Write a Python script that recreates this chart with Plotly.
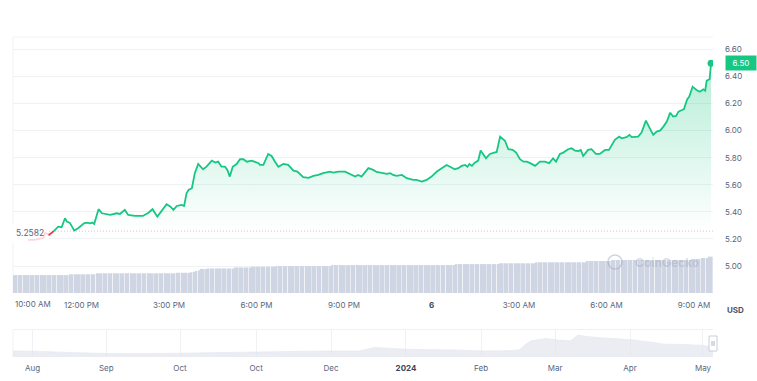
import plotly.graph_objects as go
from datetime import datetime, timedelta
import pandas as pd

# ---------------- data ----------------
price_times = [
    "10:10", "10:24", "10:41", "10:45", "10:53", "10:59", "11:07", "11:12", "11:19", "11:26",
    "11:30", "11:36", "11:45", "11:53", "12:05", "12:11", "12:18", "12:22", "12:26", "12:35",
    "12:42", "12:52", "12:59", "13:12", "13:19", "13:29", "13:36", "13:50", "14:06", "14:17",
    "14:26", "14:36", "14:55", "15:03", "15:09", "15:16", "15:26", "15:31", "15:36", "15:40",
    "15:47", "15:53", "16:00", "16:10", "16:17", "16:28", "16:35", "16:41", "16:48", "16:55",
    "17:00", "17:05", "17:11", "17:19", "17:26", "17:33", "17:40", "17:50", "17:57", "18:04",
    "18:07", "18:14", "18:24", "18:31", "18:38", "18:45", "18:55", "19:05", "19:16", "19:24",
    "19:36", "19:47", "19:57", "20:07", "20:17", "20:31", "20:38", "20:48", "21:02", "21:12",
    "21:23", "21:29", "21:36", "21:50", "22:00", "22:07", "22:17", "22:28", "22:35", "22:41",
    "22:48", "22:59", "23:09", "23:22", "23:29", "23:40", "23:50", "00:00", "00:11", "00:21",
    "00:31", "00:38", "00:48", "00:55", "01:02", "01:09", "01:14", "01:18", "01:23", "01:29",
    "01:36", "01:41", "01:46", "01:52", "02:00", "02:14", "02:21", "02:31", "02:38", "02:47",
    "02:54", "03:02", "03:09", "03:16", "03:23", "03:33", "03:43", "03:53", "04:02", "04:10",
    "04:16", "04:24", "04:31", "04:41", "04:48", "04:55", "05:02", "05:07", "05:12", "05:22",
    "05:29", "05:38", "05:46", "05:57", "06:05", "06:17", "06:26", "06:31", "06:41", "06:47",
    "06:52", "07:05", "07:12", "07:21", "07:28", "07:36", "07:43", "07:50", "07:57", "08:04",
    "08:11", "08:17", "08:23", "08:28", "08:35", "08:39", "08:46", "08:50", "08:57", "09:05",
    "09:12", "09:19", "09:23", "09:26", "09:32", "09:35",
]
prices = [
    5.193, 5.193, 5.208, 5.245, 5.230, 5.245, 5.272, 5.291, 5.287, 5.353,
    5.328, 5.319, 5.262, 5.279, 5.316, 5.321, 5.316, 5.321, 5.311, 5.420,
    5.390, 5.385, 5.378, 5.390, 5.385, 5.415, 5.378, 5.370, 5.370, 5.392,
    5.420, 5.365, 5.457, 5.439, 5.415, 5.444, 5.452, 5.444, 5.538, 5.562,
    5.575, 5.686, 5.754, 5.715, 5.734, 5.779, 5.764, 5.771, 5.734, 5.734,
    5.710, 5.661, 5.734, 5.754, 5.789, 5.789, 5.771, 5.779, 5.769, 5.760,
    5.747, 5.747, 5.828, 5.813, 5.771, 5.734, 5.754, 5.747, 5.705, 5.698,
    5.656, 5.651, 5.666, 5.673, 5.686, 5.698, 5.690, 5.698, 5.698, 5.681,
    5.661, 5.673, 5.661, 5.723, 5.710, 5.695, 5.690, 5.681, 5.686, 5.673,
    5.666, 5.673, 5.649, 5.636, 5.636, 5.624, 5.636, 5.661, 5.698, 5.723,
    5.747, 5.734, 5.715, 5.723, 5.740, 5.747, 5.734, 5.754, 5.740, 5.764,
    5.779, 5.853, 5.828, 5.796, 5.828, 5.843, 5.956, 5.926, 5.863, 5.858,
    5.838, 5.789, 5.771, 5.771, 5.760, 5.740, 5.771, 5.771, 5.760, 5.796,
    5.771, 5.828, 5.838, 5.863, 5.870, 5.853, 5.850, 5.858, 5.813, 5.858,
    5.863, 5.828, 5.828, 5.858, 5.858, 5.932, 5.956, 5.944, 5.952, 5.969,
    5.952, 5.956, 5.986, 6.074, 6.025, 5.969, 5.993, 6.000, 6.030, 6.067,
    6.133, 6.104, 6.109, 6.141, 6.153, 6.158, 6.232, 6.251, 6.325, 6.301,
    6.288, 6.306, 6.296, 6.370, 6.380, 6.498,
]
baseline_price = 5.2582
last_price_label = "6.50"

# volume bars, 5-minute buckets over the 24h window (millions USD)
volumes = [
    70, 70, 70, 70, 70, 70, 70, 70, 70, 70, 70, 70,
    70, 70, 70, 70, 70, 70, 70, 70, 70, 70, 70, 73,
    73, 73, 73, 73, 73, 73, 73, 73, 73, 73, 77, 77,
    77, 77, 77, 77, 77, 77, 77, 77, 77, 77, 77, 77,
    77, 77, 77, 77, 77, 77, 77, 77, 77, 77, 77, 77,
    77, 77, 77, 77, 77, 77, 77, 79, 79, 79, 79, 79,
    79, 81, 83, 86, 89, 94, 94, 94, 96, 96, 96, 96,
    96, 96, 96, 96, 96, 96, 96, 100, 100, 100, 100, 100,
    100, 100, 103, 103, 103, 103, 103, 103, 103, 103, 103, 103,
    105, 105, 105, 105, 105, 105, 105, 105, 105, 105, 105, 105,
    105, 105, 105, 105, 105, 105, 105, 105, 105, 105, 105, 109,
    109, 109, 109, 109, 109, 109, 109, 109, 109, 109, 109, 109,
    109, 109, 109, 109, 109, 109, 109, 109, 109, 109, 109, 109,
    109, 109, 109, 109, 109, 109, 109, 109, 109, 109, 109, 109,
    109, 109, 109, 109, 109, 109, 109, 109, 109, 109, 109, 109,
    109, 109, 113, 113, 113, 113, 113, 113, 113, 113, 113, 113,
    113, 113, 113, 113, 113, 113, 113, 113, 116, 116, 116, 116,
    116, 116, 116, 116, 116, 116, 116, 116, 116, 116, 116, 120,
    120, 120, 120, 120, 120, 120, 120, 120, 120, 120, 120, 120,
    120, 120, 120, 120, 120, 120, 120, 120, 125, 125, 125, 125,
    125, 125, 125, 125, 125, 125, 129, 129, 129, 129, 129, 129,
    129, 129, 129, 129, 129, 129, 129, 129, 129, 129, 129, 129,
    129, 129, 129, 129, 129, 129, 129, 129, 129, 129, 129, 129,
    129, 129, 129, 133, 133, 133, 133, 137, 137, 137, 142, 142,
]

first_tick_label = "10:00 AM"
x_tick_times = ["2024-05-05 12:00", "2024-05-05 15:00", "2024-05-05 18:00",
                "2024-05-05 21:00", "2024-05-06 00:00", "2024-05-06 03:00", "2024-05-06 06:00",
                "2024-05-06 09:00"]
x_tick_labels = ["12:00 PM", "3:00 PM", "6:00 PM", "9:00 PM",
                 "<b><span style='color:#3b4659'>6</span></b>", "3:00 AM", "6:00 AM", "9:00 AM"]
y_ticks = [5.0, 5.2, 5.4, 5.6, 5.8, 6.0, 6.2, 6.4, 6.6]

# navigator (1y overview)
nav_dates = ["2023-07-26", "2023-08-03", "2023-08-18", "2023-09-03", "2023-09-18", "2023-10-03",
             "2023-10-18", "2023-11-03", "2023-11-17", "2023-12-03", "2023-12-14", "2023-12-20",
             "2023-12-26", "2024-01-03", "2024-01-20", "2024-02-03", "2024-02-13", "2024-02-17",
             "2024-02-20", "2024-02-22", "2024-02-28", "2024-03-04", "2024-03-09", "2024-03-12",
             "2024-03-15", "2024-03-21", "2024-03-27", "2024-04-04", "2024-04-12", "2024-04-16",
             "2024-04-24", "2024-05-01", "2024-05-06"]
nav_values = [6.0, 5.8, 4.5, 3.4, 3.3, 4.0, 4.3, 4.7, 5.5, 6.0, 6.0, 9.4,
              8.5, 7.6, 7.0, 6.0, 6.3, 7.0, 13.0, 16.0, 18.3, 16.7, 16.0, 21.7,
              20.5, 19.0, 18.3, 16.7, 14.3, 12.7, 12.4, 11.7, 10.0]
nav_tick_dates = ["2023-08-03", "2023-09-02", "2023-10-02", "2023-11-02", "2023-12-02 12:00",
                  "2024-01-02", "2024-02-01 14:00", "2024-03-02 17:00", "2024-04-02 05:00",
                  "2024-05-01 22:00"]
nav_tick_labels = ["Aug", "Sep", "Oct", "Oct", "Dec",
                   "<b><span style='color:#3b4659'>2024</span></b>", "Feb", "Mar", "Apr", "May"]

# ---------------- build ----------------
GREEN = "#16c784"
RED = "#ea3943"
GRID = "#eff2f5"
TXT = "#58667e"

ts = []
day = datetime(2024, 5, 5)
prev = None
for t in price_times:
    h, m = map(int, t.split(":"))
    mins = h * 60 + m
    if prev is not None and mins < prev:
        day += timedelta(days=1)
    prev = mins
    ts.append(day.replace(hour=h, minute=m))

k = next(i for i, p in enumerate(prices) if p >= baseline_price)
t0, t1 = ts[k - 1], ts[k]
p0, p1 = prices[k - 1], prices[k]
tc = t0 + (t1 - t0) * ((baseline_price - p0) / (p1 - p0))
red_x = ts[:k] + [tc]
red_y = prices[:k] + [baseline_price]
green_x = [tc] + ts[k:]
green_y = [baseline_price] + prices[k:]

x_start = datetime(2024, 5, 5, 9, 39)
x_end = datetime(2024, 5, 6, 9, 39)
vol_x = pd.date_range(x_start + timedelta(minutes=2.5), periods=len(volumes), freq="5min")

fig = go.Figure()

fig.add_trace(go.Bar(x=vol_x, y=volumes, marker=dict(color="#cfd5e3", line=dict(width=0)),
                     xaxis="x", yaxis="y2", hoverinfo="skip"))

fig.add_trace(go.Scatter(x=green_x, y=[baseline_price] * len(green_x), mode="lines",
                         line=dict(width=0, color="rgba(0,0,0,0)"), hoverinfo="skip"))
fig.add_trace(go.Scatter(x=green_x, y=green_y, mode="lines", fill="tonexty",
                         fillgradient=dict(type="vertical", start=baseline_price, stop=6.5,
                                           colorscale=[[0, "rgba(22,199,132,0.0)"],
                                                       [1, "rgba(22,199,132,0.32)"]]),
                         line=dict(color=GREEN, width=1.8), hoverinfo="skip"))
fig.add_trace(go.Scatter(x=red_x, y=red_y, mode="lines", line=dict(color=RED, width=1.8),
                         hoverinfo="skip"))
fig.add_trace(go.Scatter(x=[ts[-1]], y=[prices[-1]], mode="markers",
                         marker=dict(color=GREEN, size=7), hoverinfo="skip"))

fig.add_trace(go.Scatter(x=nav_dates, y=nav_values, mode="lines", fill="tozeroy",
                         fillcolor="rgba(226,230,238,0.7)", line=dict(color="#e3e7ee", width=0.6),
                         xaxis="x2", yaxis="y3", hoverinfo="skip"))

W_PLOT = 700.0
H_PAPER = 320.0


def px_x(p):
    return (p - 13) / W_PLOT


def px_y(p):
    return (357 - p) / H_PAPER


shapes = [
    dict(type="line", xref="paper", yref="y", x0=0, x1=1, y0=baseline_price, y1=baseline_price,
         line=dict(color="#c3c9d4", width=1, dash="1px,2px"), layer="below"),
    dict(type="line", xref="paper", yref="paper", x0=0, x1=1, y0=1, y1=1,
         line=dict(color=GRID, width=1), layer="below"),
    dict(type="line", xref="paper", yref="paper", x0=0, x1=0, y0=0.2, y1=1,
         line=dict(color=GRID, width=1), layer="below"),
    dict(type="line", xref="paper", yref="paper", x0=0, x1=1, y0=px_y(329.5), y1=px_y(329.5),
         line=dict(color=GRID, width=1), layer="below"),
    dict(type="line", xref="paper", yref="paper", x0=0, x1=0, y0=0, y1=px_y(329.5),
         line=dict(color=GRID, width=1), layer="below"),
    # navigator handle
    dict(type="rect", xref="paper", yref="paper", x0=px_x(709), x1=px_x(717), y0=px_y(351),
         y1=px_y(336), fillcolor="white", line=dict(color="#c8ceda", width=1)),
    dict(type="line", xref="paper", yref="paper", x0=px_x(712), x1=px_x(712), y0=px_y(346),
         y1=px_y(341), line=dict(color="#9aa3b5", width=0.8)),
    dict(type="line", xref="paper", yref="paper", x0=px_x(714), x1=px_x(714), y0=px_y(346),
         y1=px_y(341), line=dict(color="#9aa3b5", width=0.8)),
    # watermark logo circle
    dict(type="circle", xref="paper", yref="y", x0=px_x(608), x1=px_x(622), y0=5.030 - 0.052,
         y1=5.030 + 0.052, line=dict(color="rgba(150,160,180,0.45)", width=1.5)),
]

annotations = [
    dict(xref="paper", yref="y", x=0, y=baseline_price, xanchor="left", yanchor="middle",
         xshift=-2, yshift=-2, text="5.2582", showarrow=False, font=dict(size=8.5, color=TXT),
         bgcolor="rgba(255,255,255,0.8)", borderpad=4),
    dict(xref="paper", yref="y", x=1, y=6.50, xanchor="left", yanchor="middle", xshift=12,
         text=last_price_label, showarrow=False, font=dict(size=8, color="white"),
         bgcolor=GREEN, borderpad=2, width=26),
    dict(xref="paper", yref="paper", x=px_x(735), y=px_y(310), xanchor="center", yanchor="middle",
         text="<b>USD</b>", showarrow=False, font=dict(size=8, color="#4a5568")),
    dict(xref="paper", yref="paper", x=0, y=px_y(304), xanchor="left", yanchor="middle",
         text=first_tick_label, showarrow=False, font=dict(size=8, color=TXT)),
    dict(xref="paper", yref="y", x=px_x(667), y=5.030, xanchor="center", yanchor="middle",
         text="<b>CoinGecko</b>", showarrow=False,
         font=dict(size=12, color="rgba(150,160,180,0.35)")),
]

fig.update_layout(
    width=757, height=381,
    margin=dict(l=13, r=44, t=37, b=24, autoexpand=False),
    paper_bgcolor="white", plot_bgcolor="white",
    showlegend=False,
    bargap=0.3,
    font=dict(family="Inter", size=8, color=TXT),
    xaxis=dict(type="date", range=[x_start, x_end], domain=[0, 1], anchor="y",
               tickvals=x_tick_times, ticktext=x_tick_labels, showgrid=False, zeroline=False,
               showline=False, ticks="", ticklabelstandoff=6, fixedrange=True, automargin=False),
    yaxis=dict(domain=[0.2, 1], range=[4.801, 6.692], side="right", tickvals=y_ticks,
               tickformat=".2f", showgrid=True, gridcolor=GRID, gridwidth=1, zeroline=False,
               showline=False, ticks="", ticklabelstandoff=11, fixedrange=True, automargin=False),
    yaxis2=dict(overlaying="y", range=[0, 1000], visible=False, fixedrange=True, automargin=False),
    xaxis2=dict(type="date", domain=[0, 1], anchor="y3",
                range=["2023-07-26", "2024-05-06"], tickvals=nav_tick_dates,
                ticktext=nav_tick_labels, showgrid=True, gridcolor=GRID, zeroline=False,
                showline=False, ticks="", ticklabelstandoff=5, fixedrange=True, automargin=False),
    yaxis3=dict(domain=[0, px_y(329.5)], range=[0, 27.2], visible=False, fixedrange=True,
                automargin=False),
    shapes=shapes,
    annotations=annotations,
)

fig.write_html(
    "out.html",
    config={"displayModeBar": False},
    post_script="document.body.style.margin='0px';document.body.style.overflow='hidden';",
)
